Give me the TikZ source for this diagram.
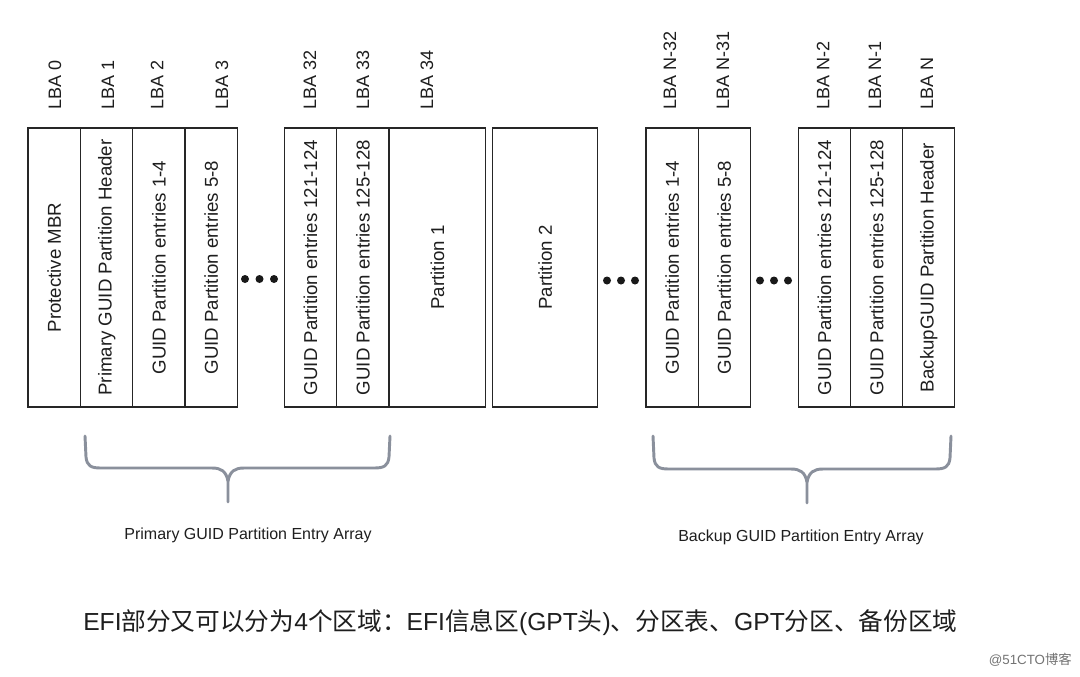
\documentclass[tikz,border=0pt]{standalone}
\usepackage{fontspec}
\setmainfont{Liberation Sans}
\newfontfamily\cjk{Noto Sans CJK SC}
\definecolor{bracegrey}{RGB}{138,144,156}
\definecolor{inkc}{RGB}{30,30,30}
\begin{document}
\begin{tikzpicture}[x=0.75pt,y=-0.75pt,
  cellbox/.style={draw=black!85,line width=0.9pt},
  celltext/.style={rotate=90,inner sep=0,text=inkc,font=\fontsize{14}{16}\selectfont},
  lba/.style={rotate=90,anchor=west,inner sep=0,text=inkc,font=\fontsize{13.5}{16}\selectfont},
  dotc/.style={circle,fill=black!90,inner sep=0,minimum size=6pt},
  brace/.style={draw=bracegrey,line width=2.2pt,line cap=round,line join=round},
  arraylbl/.style={inner sep=0,text=inkc,font=\fontsize{12}{14}\selectfont}]
\useasboundingbox (0,0) rectangle (1080,676);
\fill[white] (0,0) rectangle (1080,676);

% LBA labels
\node[lba] (l0) at (55,110) {LBA 0};
\node[lba] (l1) at (108,110) {LBA 1};
\node[lba] (l2) at (157,110) {LBA 2};
\node[lba] (l3) at (222,110) {LBA 3};
\node[lba] (l32) at (310,110) {LBA 32};
\node[lba] (l33) at (363,110) {LBA 33};
\node[lba] (l34) at (427,110) {LBA 34};
\node[lba] (ln32) at (670,110) {LBA N-32};
\node[lba] (ln31) at (723,110) {LBA N-31};
\node[lba] (ln2) at (823,110) {LBA N-2};
\node[lba] (ln1) at (875,110) {LBA N-1};
\node[lba] (ln) at (927,110) {LBA N};

% group 1
\draw[cellbox] (28,128) rectangle (80.7,407);
\draw[cellbox] (80.7,128) rectangle (132.7,407);
\draw[cellbox] (132.7,128) rectangle (185,407);
\draw[cellbox] (185,128) rectangle (237.3,407);
\node[celltext] (c0) at (54.3,267.5) {Protective MBR};
\node[celltext] (c1) at (106.7,267.5) {Primary GUID Partition Header};
\node[celltext] (c2) at (158.9,267.5) {GUID Partition entries 1-4};
\node[celltext] (c3) at (211.2,267.5) {GUID Partition entries 5-8};

% group 2
\draw[cellbox] (284.3,128) rectangle (336.7,407);
\draw[cellbox] (336.7,128) rectangle (389,407);
\draw[cellbox] (389,128) rectangle (485.7,407);
\node[celltext] (c32) at (310.5,267.5) {GUID Partition entries 121-124};
\node[celltext] (c33) at (362.9,267.5) {GUID Partition entries 125-128};
\node[celltext] (p1) at (437.4,267.5) {Partition 1};

% partition 2
\draw[cellbox] (492.7,128) rectangle (597.7,407);
\node[celltext] (p2) at (545.2,267.5) {Partition 2};

% group 3
\draw[cellbox] (646,128) rectangle (698.3,407);
\draw[cellbox] (698.3,128) rectangle (750.3,407);
\node[celltext] (b1) at (672.2,267.5) {GUID Partition entries 1-4};
\node[celltext] (b2) at (724.3,267.5) {GUID Partition entries 5-8};

% group 4
\draw[cellbox] (798.3,128) rectangle (850.7,407);
\draw[cellbox] (850.7,128) rectangle (902.7,407);
\draw[cellbox] (902.7,128) rectangle (954.7,407);
\node[celltext] (b32) at (824.5,267.5) {GUID Partition entries 121-124};
\node[celltext] (b33) at (876.7,267.5) {GUID Partition entries 125-128};
\node[celltext] (bh) at (928.7,267.5) {BackupGUID Partition Header};

% dots
\node[dotc] (d1) at (245,279) {};
\node[dotc] (d2) at (259.5,279) {};
\node[dotc] (d3) at (274,279) {};
\node[dotc] (d4) at (607,280.5) {};
\node[dotc] (d5) at (621,280.5) {};
\node[dotc] (d6) at (635,280.5) {};
\node[dotc] (d7) at (760,280.5) {};
\node[dotc] (d8) at (774,280.5) {};
\node[dotc] (d9) at (788,280.5) {};

% braces
\draw[brace] (85,436) -- (86,457) .. controls (87,466) and (91,468) .. (101,468) -- (212,468) .. controls (221,468) and (226,471) .. (228,481) -- (228,502);
\draw[brace] (390,436) -- (389,457) .. controls (388,466) and (384,468) .. (374,468) -- (244,468) .. controls (235,468) and (230,471) .. (228,481);
\draw[brace] (653,436) -- (654,458) .. controls (655,467) and (659,469) .. (669,469) -- (791,469) .. controls (800,469) and (805,472) .. (807,482) -- (807,503);
\draw[brace] (951,436) -- (950,458) .. controls (949,467) and (945,469) .. (935,469) -- (823,469) .. controls (814,469) and (809,472) .. (807,482);

\node[arraylbl] (pa) at (248,535) {Primary GUID Partition Entry Array};
\node[arraylbl] (ba) at (801,537) {Backup GUID Partition Entry Array};

\node[anchor=west,inner sep=0,text=inkc,font=\fontsize{18.5}{20}\selectfont] (cap) at (83,623)
 {EFI{\cjk 部分又可以分为}4{\cjk 个区域：}EFI{\cjk 信息区}(GPT{\cjk 头}){\cjk 、分区表、}GPT{\cjk 分区、备份区域}};

\node[anchor=east,inner sep=0,text=black!55,font=\fontsize{10}{12}\selectfont] (wm) at (1072,660) {@51CTO{\cjk 博客}};
\end{tikzpicture}
\end{document}
